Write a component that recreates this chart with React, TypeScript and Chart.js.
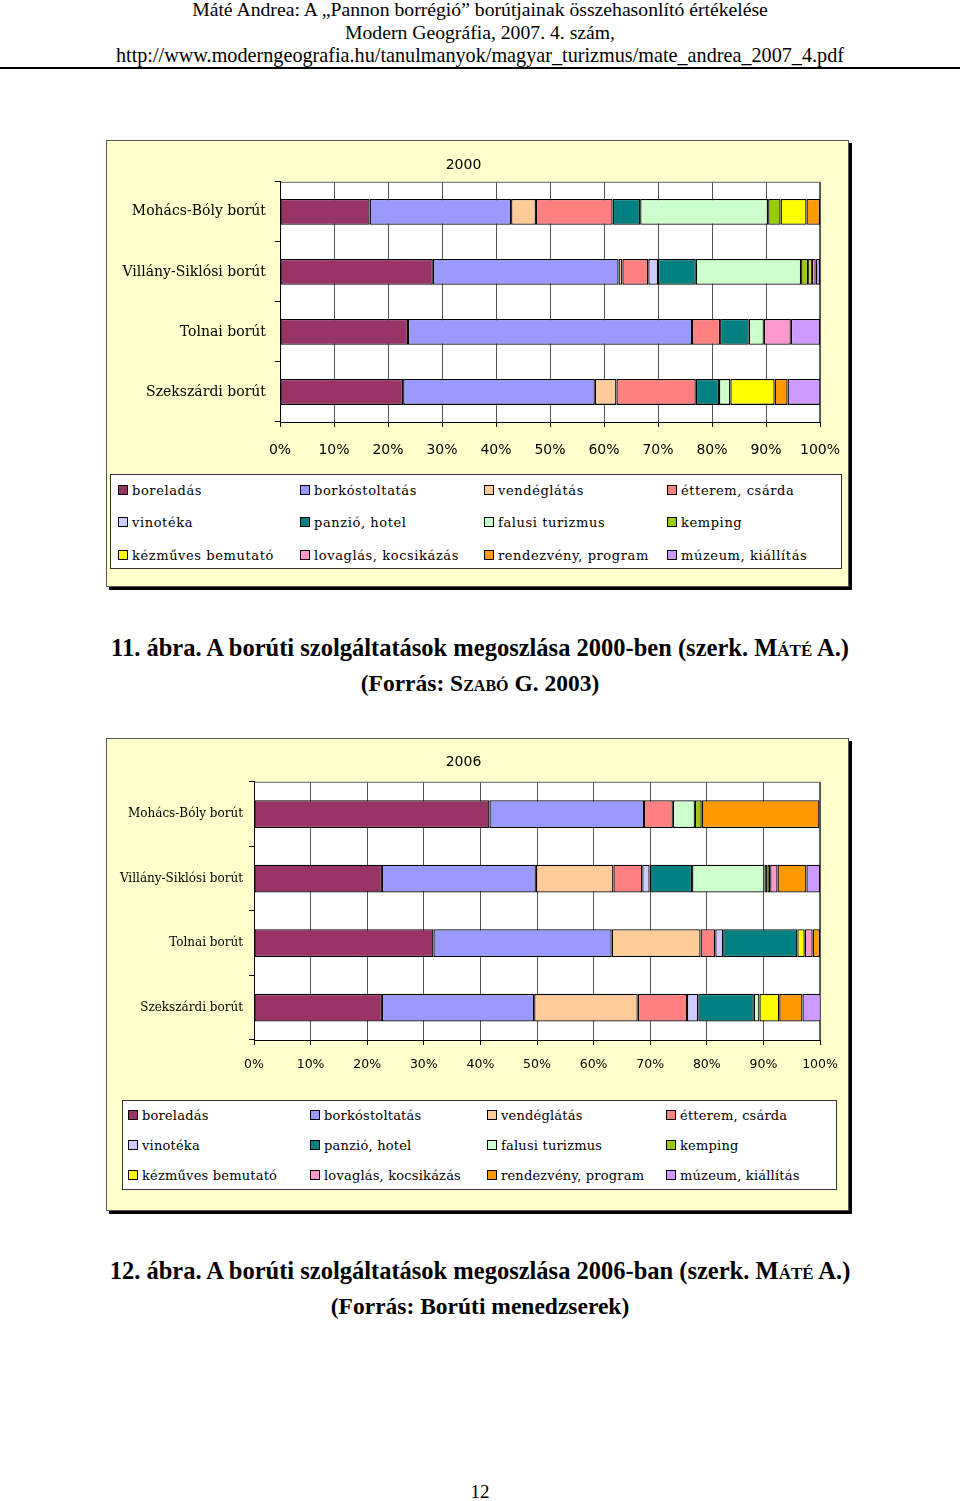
import React, { useEffect, useRef } from 'react';
import { Chart, registerables } from 'chart.js';

Chart.register(...registerables);

// ---------- DATA ----------
const categories = ['Mohács-Bóly borút', 'Villány-Siklósi borút', 'Tolnai borút', 'Szekszárdi borút'];

const seriesNames = [
  'boreladás', 'borkóstoltatás', 'vendéglátás', 'étterem, csárda',
  'vinotéka', 'panzió, hotel', 'falusi turizmus', 'kemping',
  'kézműves bemutató', 'lovaglás, kocsikázás', 'rendezvény, program', 'múzeum, kiállítás',
];

const seriesColors = [
  '#993366', '#9999FF', '#FFCC99', '#FF8080',
  '#CCCCFF', '#008080', '#CCFFCC', '#99CC00',
  '#FFFF00', '#FF99CC', '#FF9900', '#CC99FF',
];

const xTickValues = [0, 10, 20, 30, 40, 50, 60, 70, 80, 90, 100];

// 2000 – order of categories: Mohács-Bóly, Villány-Siklósi, Tolnai, Szekszárdi
const boreladas2000 = [16.6, 28.3, 23.7, 22.8];
const borkostoltatas2000 = [26.2, 34.4, 52.6, 35.5];
const vendeglatas2000 = [4.6, 0.7, null, 4.0];
const etterem2000 = [14.2, 4.8, 5.2, 14.7];
const vinoteka2000 = [null, 1.8, null, null];
const panzio2000 = [5.1, 7.0, 5.3, 4.3];
const falusi2000 = [23.7, 19.5, 2.8, 2.1];
const kemping2000 = [2.3, 1.3, null, null];
const kezmuves2000 = [4.8, 0.7, null, 8.2];
const lovaglas2000 = [null, 0.7, 5.0, null];
const rendezveny2000 = [2.5, null, null, 2.4];
const muzeum2000 = [null, 0.8, 5.4, 6.1];

// 2006
const boreladas2006 = [41.6, 22.6, 31.7, 22.6];
const borkostoltatas2006 = [27.3, 27.2, 31.5, 26.9];
const vendeglatas2006 = [null, 13.7, 15.7, 18.3];
const etterem2006 = [5.1, 5.1, 2.6, 8.7];
const vinoteka2006 = [null, 1.3, 1.4, 2.0];
const panzio2006 = [null, 7.5, 13.1, 9.8];
const falusi2006 = [3.9, 12.8, null, 1.0];
const kemping2006 = [1.2, 0.5, null, null];
const kezmuves2006 = [null, 0.5, 1.3, 3.5];
const lovaglas2006 = [null, 1.3, 1.4, null];
const rendezveny2006 = [20.8, 5.1, 1.3, 4.1];
const muzeum2006 = [null, 2.4, null, 3.3];

const series2000 = [
  boreladas2000, borkostoltatas2000, vendeglatas2000, etterem2000,
  vinoteka2000, panzio2000, falusi2000, kemping2000,
  kezmuves2000, lovaglas2000, rendezveny2000, muzeum2000,
];
const series2006 = [
  boreladas2006, borkostoltatas2006, vendeglatas2006, etterem2006,
  vinoteka2006, panzio2006, falusi2006, kemping2006,
  kezmuves2006, lovaglas2006, rendezveny2006, muzeum2006,
];

// ---------- CHART ----------
const plotArea = {
  id: 'plotArea',
  beforeDraw(chart: any) {
    const { ctx, chartArea: a } = chart;
    ctx.save();
    ctx.fillStyle = '#ffffff';
    ctx.fillRect(a.left, a.top, a.width, a.height);
    ctx.strokeStyle = '#666666';
    ctx.lineWidth = 1;
    ctx.strokeRect(a.left + 0.5, a.top + 0.5, a.width - 1, a.height);
    ctx.restore();
  },
};

type ChartProps = {
  title: string;
  values: (number | null)[][];
  width: number;
  height: number;
  yAxisWidth: number;
  xAxisHeight: number;
  titleTop: number;
  titleBottom: number;
  padRight: number;
  catFont: number;
  tickFont: number;
  yPad: number;
  xPad: number;
};

function StackedBar(p: ChartProps) {
  const ref = useRef<HTMLCanvasElement>(null);
  useEffect(() => {
    if (!ref.current) return;
    const chart = new Chart(ref.current, {
      type: 'bar',
      data: {
        labels: categories,
        datasets: seriesNames.map((name, i) => ({
          label: name,
          data: p.values[i],
          backgroundColor: seriesColors[i],
          borderColor: '#000000',
          borderWidth: 1.3,
          borderSkipped: false,
          barPercentage: 0.43,
          categoryPercentage: 1,
        })),
      },
      options: {
        indexAxis: 'y',
        responsive: false,
        animation: false,
        layout: { padding: { left: 0, right: p.padRight, top: 0, bottom: 0 } },
        plugins: {
          legend: { display: false },
          tooltip: { enabled: false },
          title: {
            display: true,
            text: p.title,
            color: '#000',
            font: { family: 'DejaVu Sans', size: 14, weight: 'normal' },
            padding: { top: p.titleTop, bottom: p.titleBottom },
          },
        },
        scales: {
          x: {
            type: 'linear',
            stacked: true,
            min: 0,
            max: 100,
            afterFit: (s: any) => { s.height = p.xAxisHeight; s.paddingLeft = 0; s.paddingRight = 0; },
            ticks: {
              stepSize: 10,
              autoSkip: false,
              maxRotation: 0,
              color: '#000',
              padding: p.xPad,
              font: { family: 'DejaVu Sans', size: p.tickFont },
              callback: (v: any) => (xTickValues.includes(Number(v)) ? `${v}%` : ''),
            },
            grid: { color: '#555555', lineWidth: 1, drawTicks: true, tickLength: 5, tickColor: '#000' },
            border: { display: true, color: '#000', width: 1 },
          },
          y: {
            type: 'category',
            stacked: true,
            afterFit: (s: any) => { s.width = p.yAxisWidth; s.paddingTop = 0; s.paddingBottom = 0; },
            ticks: {
              color: '#000',
              padding: p.yPad,
              font: { family: 'DejaVu Serif', size: p.catFont },
            },
            grid: { offset: true, drawOnChartArea: false, drawTicks: true, tickLength: 5, color: '#000' },
            border: { display: true, color: '#000', width: 1 },
          },
        },
      } as any,
      plugins: [plotArea],
    });
    return () => chart.destroy();
  }, []);
  return <canvas ref={ref} width={p.width} height={p.height} style={{ display: 'block', width: p.width, height: p.height }} />;
}

function Legend({ cols, rows, fontSize, spacing }: { cols: number[]; rows: number[]; fontSize: number; spacing: number }) {
  return (
    <>
      {seriesNames.map((name, i) => {
        const col = i % 4;
        const row = Math.floor(i / 4);
        return (
          <div key={name} style={{ position: 'absolute', left: cols[col], top: rows[row] - 10, height: 20, display: 'flex', alignItems: 'center', whiteSpace: 'nowrap' }}>
            <span style={{ display: 'inline-block', width: 8, height: 8, background: seriesColors[i], border: '1.5px solid #000', marginRight: 4 }} />
            <span style={{ fontFamily: 'DejaVu Serif', fontSize, color: '#000', letterSpacing: spacing }}>{name}</span>
          </div>
        );
      })}
    </>
  );
}

const txt = (top: number, size: number, bold: boolean, content: React.ReactNode) => (
  <div style={{ position: 'absolute', left: 0, width: 960, top, textAlign: 'center', fontFamily: 'Liberation Serif', fontSize: size, fontWeight: bold ? 700 : 400, lineHeight: `${Math.round(size) + 4}px`, color: '#000', whiteSpace: 'nowrap' }}>
    {content}
  </div>
);

export default function App() {
  return (
    <div style={{ position: 'absolute', left: 0, top: 0, width: 960, height: 1500, background: '#fff', overflow: 'hidden' }}>
      {txt(-3, 19.7, false, 'Máté Andrea: A „Pannon borrégió” borútjainak összehasonlító értékelése')}
      {txt(20, 19.7, false, 'Modern Geográfia, 2007. 4. szám,')}
      {txt(43, 20.2, false, 'http://www.moderngeografia.hu/tanulmanyok/magyar_turizmus/mate_andrea_2007_4.pdf')}
      <div style={{ position: 'absolute', left: 0, top: 67, width: 960, height: 2, background: '#000' }} />

      {/* Chart 1 */}
      <div style={{ position: 'absolute', left: 106, top: 140, width: 741, height: 445, background: '#FFFFCC', border: '1px solid #555', boxShadow: '3px 3px 0 #000' }} />
      <div style={{ position: 'absolute', left: 107, top: 141 }}>
        <StackedBar title="2000" values={series2000} width={741} height={325} yAxisWidth={173} xAxisHeight={44}
          titleTop={16} titleBottom={8} padRight={28} catFont={14} tickFont={14} yPad={9} xPad={15} />
      </div>
      <div style={{ position: 'absolute', left: 110, top: 474, width: 730, height: 93, background: '#fff', border: '1px solid #333' }} />
      <Legend cols={[118, 300, 484, 667]} rows={[490, 522, 555]} fontSize={13} spacing={0.6} />

      {txt(633, 24.5, true, <>11. ábra. A borúti szolgáltatások megoszlása 2000-ben (szerk. M<span style={{ fontVariant: 'small-caps' }}>áté</span> A.)</>)}
      {txt(669, 23.5, true, <>(Forrás: S<span style={{ fontVariant: 'small-caps' }}>zabó</span> G. 2003)</>)}

      {/* Chart 2 */}
      <div style={{ position: 'absolute', left: 106, top: 738, width: 741, height: 471, background: '#FFFFCC', border: '1px solid #555', boxShadow: '3px 3px 0 #000' }} />
      <div style={{ position: 'absolute', left: 107, top: 739 }}>
        <StackedBar title="2006" values={series2006} width={741} height={341} yAxisWidth={147} xAxisHeight={40}
          titleTop={15} titleBottom={11} padRight={28} catFont={12} tickFont={12.5} yPad={6} xPad={12} />
      </div>
      <div style={{ position: 'absolute', left: 122, top: 1100, width: 713, height: 88, background: '#fff', border: '1px solid #333' }} />
      <Legend cols={[128, 310, 487, 666]} rows={[1115, 1145, 1175]} fontSize={13} spacing={0.2} />

      {txt(1256, 24.5, true, <>12. ábra. A borúti szolgáltatások megoszlása 2006-ban (szerk. M<span style={{ fontVariant: 'small-caps' }}>áté</span> A.)</>)}
      {txt(1292, 23.5, true, '(Forrás: Borúti menedzserek)')}

      {txt(1480, 19, false, '12')}
    </div>
  );
}
